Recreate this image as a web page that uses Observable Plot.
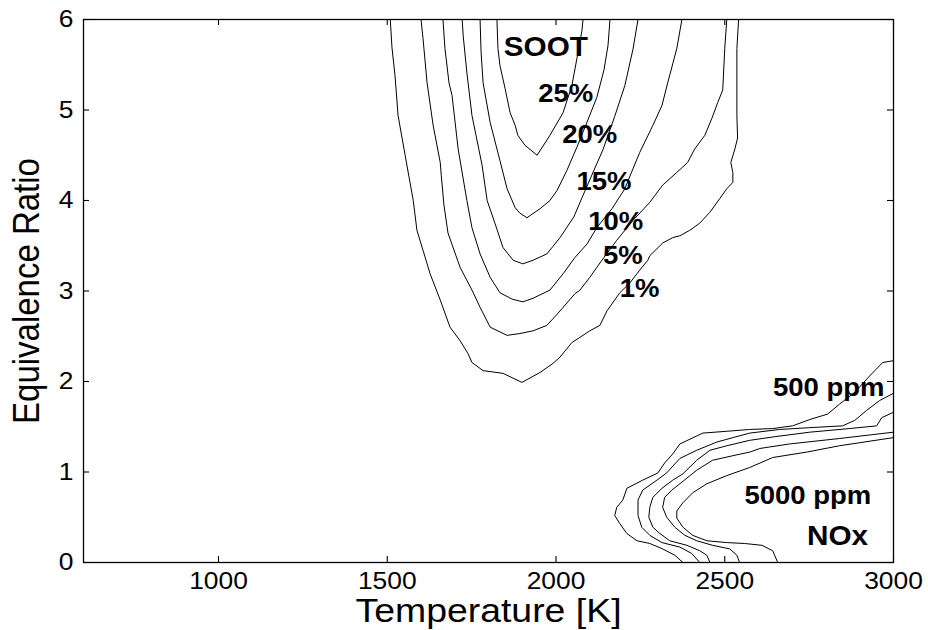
<!DOCTYPE html>
<html>
<head>
<meta charset="utf-8">
<script src="https://cdn.jsdelivr.net/npm/d3@7"></script>
<script src="https://cdn.jsdelivr.net/npm/@observablehq/plot@0.6"></script>
<style>
  body { margin: 0; background: #fff; }
  #chart { width: 928px; height: 630px; }
</style>
</head>
<body>
<div id="chart"></div>
<script>
// Axis ticks
const xTicks = [1000, 1500, 2000, 2500, 3000];
const yTicks = [0, 1, 2, 3, 4, 5, 6];

// Soot yield iso-lines (temperature in K, equivalence ratio)
const soot25T   = [1825, 1828, 1834, 1849, 1864, 1879, 1887, 1908, 1944, 1982, 2021, 2047, 2062, 2077, 2080];
const soot25Phi = [6.00, 5.68, 5.49, 5.24, 4.97, 4.83, 4.72, 4.61, 4.50, 4.72, 4.97, 5.27, 5.57, 5.88, 6.00];

const soot20T   = [1775, 1778, 1784, 1805, 1834, 1855, 1879, 1893, 1914, 1953, 1982, 2003, 2032, 2062, 2086, 2121, 2142, 2154, 2160];
const soot20Phi = [6.00, 5.64, 5.30, 4.86, 4.44, 4.13, 3.92, 3.86, 3.81, 3.91, 4.00, 4.11, 4.33, 4.59, 4.81, 5.14, 5.44, 5.71, 6.00];

const soot15T   = [1722, 1725, 1736, 1751, 1781, 1796, 1819, 1843, 1873, 1902, 1932, 1973, 2012, 2053, 2077, 2106, 2139, 2174, 2204, 2228, 2243];
const soot15Phi = [6.00, 5.82, 5.41, 4.94, 4.39, 4.00, 3.75, 3.48, 3.34, 3.30, 3.34, 3.41, 3.59, 3.82, 4.03, 4.28, 4.56, 4.93, 5.27, 5.67, 6.00];

const soot10T   = [1665, 1671, 1683, 1692, 1710, 1736, 1751, 1775, 1805, 1834, 1870, 1902, 1932, 1982, 2021, 2056, 2092, 2121, 2166, 2204, 2228, 2248, 2287, 2314, 2331, 2358, 2373];
const soot10Phi = [6.00, 5.68, 5.30, 5.16, 4.57, 4.00, 3.70, 3.41, 3.15, 2.98, 2.91, 2.88, 2.92, 3.01, 3.19, 3.37, 3.52, 3.70, 3.91, 4.13, 4.35, 4.53, 4.83, 5.05, 5.30, 5.68, 6.00];

const soot5T    = [1600, 1606, 1618, 1636, 1657, 1660, 1668, 1680, 1716, 1751, 1775, 1805, 1855, 1893, 1932, 1973, 2012, 2056, 2071, 2100, 2136, 2180, 2228, 2278, 2316, 2358, 2390, 2411, 2441, 2462, 2479, 2494, 2500, 2506];
const soot5Phi  = [6.00, 5.79, 5.30, 4.83, 4.42, 4.28, 3.95, 3.64, 3.26, 3.01, 2.82, 2.60, 2.51, 2.53, 2.56, 2.62, 2.78, 2.97, 3.01, 3.15, 3.34, 3.56, 3.78, 3.98, 4.17, 4.31, 4.42, 4.57, 4.72, 4.91, 5.08, 5.22, 5.68, 6.00];

const soot1T    = [1509, 1514, 1523, 1532, 1553, 1577, 1588, 1606, 1627, 1657, 1686, 1716, 1739, 1751, 1784, 1843, 1899, 1953, 1991, 2012, 2047, 2080, 2100, 2130, 2151, 2189, 2219, 2248, 2272, 2278, 2316, 2346, 2367, 2396, 2426, 2456, 2485, 2506, 2524, 2524, 2518, 2530, 2538, 2536, 2536, 2541];
const soot1Phi  = [6.00, 5.69, 5.38, 4.94, 4.50, 4.00, 3.67, 3.45, 3.19, 2.90, 2.60, 2.45, 2.31, 2.21, 2.12, 2.09, 1.99, 2.10, 2.20, 2.27, 2.43, 2.51, 2.56, 2.62, 2.78, 2.98, 3.09, 3.23, 3.34, 3.39, 3.53, 3.59, 3.61, 3.67, 3.75, 3.87, 4.02, 4.13, 4.20, 4.31, 4.42, 4.57, 4.69, 4.94, 5.68, 6.00];

// NOx iso-lines, from 500 ppm (outer) to 5000 ppm (inner)
const nox1T   = [2376, 2352, 2316, 2278, 2240, 2210, 2189, 2174, 2180, 2198, 2210, 2257, 2302, 2322, 2346, 2367, 2435, 2506, 2574, 2642, 2701, 2752, 2805, 2840, 2885, 2929, 2968, 3000];
const nox1Phi = [0.00, 0.08, 0.15, 0.21, 0.24, 0.32, 0.43, 0.52, 0.61, 0.69, 0.82, 0.91, 0.99, 1.10, 1.20, 1.31, 1.43, 1.45, 1.47, 1.48, 1.51, 1.58, 1.64, 1.75, 1.88, 2.06, 2.21, 2.23];

const nox2T   = [2426, 2402, 2367, 2314, 2278, 2254, 2243, 2243, 2257, 2299, 2328, 2367, 2417, 2476, 2524, 2574, 2663, 2752, 2849, 2885, 2920, 2959, 3000];
const nox2Phi = [0.00, 0.10, 0.17, 0.22, 0.30, 0.39, 0.52, 0.69, 0.80, 0.91, 0.99, 1.15, 1.24, 1.33, 1.38, 1.43, 1.47, 1.49, 1.51, 1.57, 1.68, 1.79, 1.87];

const nox3T   = [2456, 2447, 2426, 2388, 2337, 2308, 2287, 2275, 2278, 2287, 2314, 2346, 2376, 2417, 2456, 2506, 2574, 2648, 2752, 2870, 2950, 2965, 3000];
const nox3Phi = [0.00, 0.08, 0.13, 0.19, 0.24, 0.32, 0.39, 0.50, 0.61, 0.72, 0.82, 0.91, 0.98, 1.13, 1.24, 1.29, 1.35, 1.39, 1.44, 1.48, 1.51, 1.60, 1.66];

const nox4T   = [2544, 2536, 2515, 2464, 2417, 2382, 2352, 2328, 2316, 2322, 2343, 2367, 2417, 2464, 2524, 2574, 2604, 2692, 2840, 3000];
const nox4Phi = [0.00, 0.08, 0.15, 0.19, 0.24, 0.30, 0.39, 0.50, 0.61, 0.72, 0.80, 0.87, 1.02, 1.13, 1.18, 1.22, 1.26, 1.31, 1.37, 1.44];

const nox5T   = [2657, 2642, 2610, 2559, 2506, 2447, 2405, 2376, 2358, 2358, 2376, 2405, 2447, 2506, 2574, 2642, 2743, 2840, 3000];
const nox5Phi = [0.00, 0.13, 0.19, 0.21, 0.22, 0.24, 0.30, 0.39, 0.49, 0.57, 0.66, 0.77, 0.87, 0.96, 1.05, 1.16, 1.22, 1.29, 1.38];

// In-plot annotations
const levelText = ["25%", "20%", "15%", "10%", "5%", "1%", "500 ppm", "5000 ppm"];
const levelT    = [2029, 2100, 2142, 2177, 2198, 2248, 2808, 2746];
const levelPhi  = [5.18, 4.72, 4.20, 3.76, 3.39, 3.02, 1.93, 0.73];

const groupText = ["SOOT", "NOx"];
const groupT    = [1970, 2834];
const groupPhi  = [5.69, 0.29];

const rows = (id, T, P) => T.map((t, i) => ({id, T: t, phi: P[i]}));
const isolines = [
  ...rows("soot 25%", soot25T, soot25Phi),
  ...rows("soot 20%", soot20T, soot20Phi),
  ...rows("soot 15%", soot15T, soot15Phi),
  ...rows("soot 10%", soot10T, soot10Phi),
  ...rows("soot 5%", soot5T, soot5Phi),
  ...rows("soot 1%", soot1T, soot1Phi),
  ...rows("nox a", nox1T, nox1Phi),
  ...rows("nox b", nox2T, nox2Phi),
  ...rows("nox c", nox3T, nox3Phi),
  ...rows("nox d", nox4T, nox4Phi),
  ...rows("nox e", nox5T, nox5Phi)
];
const levelLabels = levelText.map((text, i) => ({text, T: levelT[i], phi: levelPhi[i]}));
const groupLabels = groupText.map((text, i) => ({text, T: groupT[i], phi: groupPhi[i]}));

const W = 928, H = 630;
const mL = 83, mR = 35, mT = 19, mB = 68;
const tick = 6;                       // inward tick length, px
const frameW = W - mL - mR, frameH = H - mT - mB;

const chart = Plot.plot({
  width: W,
  height: H,
  marginLeft: mL,
  marginRight: mR,
  marginTop: mT,
  marginBottom: mB,
  style: {fontFamily: "'Liberation Sans', Arial, Helvetica, sans-serif", color: "#000", background: "#fff"},
  x: {domain: [600, 3000]},
  y: {domain: [0, 6]},
  marks: [
    // inward tick marks on all four sides
    Plot.tickX(xTicks, {x: d => d, insetTop: frameH - tick, stroke: "#000", strokeWidth: 1.1}),
    Plot.tickX(xTicks, {x: d => d, insetBottom: frameH - tick, stroke: "#000", strokeWidth: 1.1}),
    Plot.tickY(yTicks, {y: d => d, insetRight: frameW - tick, stroke: "#000", strokeWidth: 1.1}),
    Plot.tickY(yTicks, {y: d => d, insetLeft: frameW - tick, stroke: "#000", strokeWidth: 1.1}),
    // tick labels
    Plot.axisX(xTicks, {anchor: "bottom", tickSize: 0, tickPadding: 9, fontSize: 24, label: null, tickFormat: d => String(d)}),
    Plot.axisY(yTicks, {anchor: "left", tickSize: 0, tickPadding: 10, fontSize: 24, label: null, tickFormat: d => String(d)}),
    // axis titles
    Plot.text(["Temperature [K]"], {frameAnchor: "bottom", dy: 59, fontSize: 34, text: d => d}),
    Plot.text(["Equivalence Ratio"], {frameAnchor: "left", dx: -56, rotate: -90, textAnchor: "middle", fontSize: 33, text: d => d}),
    Plot.frame({stroke: "#000", strokeWidth: 1.3}),
    Plot.line(isolines, {x: "T", y: "phi", z: "id", stroke: "#000", strokeWidth: 1, curve: "linear"}),
    Plot.text(levelLabels, {x: "T", y: "phi", text: "text", fontSize: 25, fontWeight: "bold", fill: "#000"}),
    Plot.text(groupLabels, {x: "T", y: "phi", text: "text", fontSize: 27, fontWeight: "bold", fill: "#000"})
  ]
});

// widen glyphs horizontally to the proportions of the printed figure
chart.querySelectorAll("text").forEach(t => {
  const tr = t.getAttribute("transform");
  if (tr == null) return;
  t.setAttribute("transform", tr + (tr.includes("rotate") ? " scale(1,1.1)" : " scale(1.1,1)"));
});

document.getElementById("chart").appendChild(chart);
</script>
</body>
</html>
